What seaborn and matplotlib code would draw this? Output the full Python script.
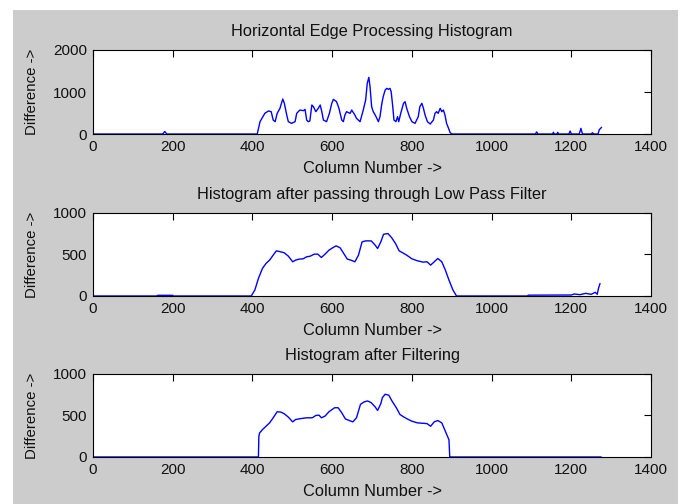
import matplotlib
matplotlib.use("Agg")
import matplotlib.pyplot as plt
import seaborn as sns
from matplotlib.patches import Rectangle

# Column positions and difference values
raw_cols = [1, 175, 180, 185, 412, 419, 431, 440, 447, 452, 457, 462, 469, 476, 480, 486,
            490, 498, 507, 511, 519, 528, 532, 536, 540, 544, 549, 553, 559, 565, 570, 574,
            578, 586, 593, 599, 603, 611, 617, 624, 628, 632, 636, 645, 649, 657, 661, 670,
            678, 684, 688, 692, 695, 699, 703, 708, 712, 716, 720, 724, 728, 733, 737, 741,
            745, 748, 752, 755, 760, 764, 767, 772, 779, 783, 787, 794, 800, 808, 816, 820,
            825, 829, 833, 839, 846, 854, 858, 862, 866, 871, 875, 879, 883, 887, 892, 896,
            900, 1110, 1113, 1116, 1153, 1155, 1157, 1164, 1166, 1168, 1194, 1197, 1200,
            1220, 1224, 1228, 1250, 1253, 1256, 1267, 1270, 1276]
raw_vals = [0, 0, 60, 0, 0, 294, 492, 548, 532, 333, 294, 492, 611, 833, 730, 452,
            294, 254, 294, 492, 571, 556, 587, 333, 294, 310, 690, 651, 532, 611, 690, 532,
            333, 294, 492, 730, 825, 770, 611, 333, 294, 452, 532, 492, 571, 452, 373, 294,
            571, 810, 1206, 1349, 1127, 651, 532, 452, 373, 294, 413, 690, 889, 1048, 1087, 1064,
            1087, 1008, 651, 333, 294, 413, 294, 492, 730, 770, 611, 413, 294, 254, 413, 651,
            730, 611, 452, 294, 238, 333, 492, 532, 492, 611, 532, 571, 452, 254, 135, 32,
            0, 0, 50, 0, 0, 40, 0, 0, 40, 0, 0, 70, 0,
            0, 135, 0, 0, 30, 0, 0, 100, 160]

lpf_cols = [1, 160, 162, 200, 202, 397, 406, 415, 425, 434, 443, 452, 460, 471, 480, 490,
            501, 508, 517, 527, 536, 545, 555, 564, 573, 582, 592, 601, 610, 620, 629, 638,
            647, 657, 666, 675, 684, 698, 708, 714, 722, 729, 740, 749, 759, 768, 777, 787,
            800, 814, 828, 838, 847, 856, 865, 875, 884, 893, 903, 912, 1090, 1092, 1200,
            1207, 1222, 1236, 1250, 1260, 1265, 1268, 1272]
lpf_vals = [0, 0, 8, 8, 0, 0, 72, 212, 332, 392, 432, 492, 544, 532, 520, 480,
            412, 432, 444, 448, 472, 480, 504, 504, 464, 504, 552, 580, 604, 580, 512, 444,
            432, 412, 492, 652, 664, 664, 612, 572, 652, 744, 752, 704, 632, 544, 520, 492,
            448, 424, 408, 412, 372, 412, 452, 412, 312, 192, 72, 0, 0, 10, 12,
            24, 16, 32, 20, 45, 20, 90, 150]

flt_cols = [1, 415, 416, 418, 425, 434, 443, 452, 462, 471, 480, 490, 501, 508, 522, 536,
            550, 559, 567, 573, 582, 592, 606, 615, 624, 633, 643, 652, 661, 671, 680, 689,
            698, 708, 714, 722, 726, 733, 742, 751, 761, 770, 779, 788, 800, 814, 838, 847,
            856, 865, 875, 884, 893, 895, 1275]
flt_vals = [0, 0, 248, 290, 329, 370, 411, 472, 545, 541, 520, 480, 423, 451, 463, 472,
            472, 500, 504, 472, 492, 545, 593, 593, 533, 459, 439, 423, 472, 634, 663, 675,
            654, 602, 561, 642, 715, 756, 744, 667, 593, 512, 484, 459, 431, 411, 402, 370,
            423, 439, 411, 309, 207, 0, 0]

titles = ["Horizontal Edge Processing Histogram",
          "Histogram after passing through Low Pass Filter",
          "Histogram after Filtering"]
yticks = [[0, 1000, 2000], [0, 500, 1000], [0, 500, 1000]]
xticks = [0, 200, 400, 600, 800, 1000, 1200, 1400]

sns.set_style("white")
plt.rcParams['font.family'] = ['Liberation Sans', 'DejaVu Sans']

fig = plt.figure(figsize=(6.83, 5.04), dpi=100, facecolor='white')
fig.patches.append(Rectangle((13 / 683, 0), 665 / 683, 494 / 504, transform=fig.transFigure,
                             facecolor='#cccccc', edgecolor='none', zorder=-10))

positions = [[0.1362, 0.7341, 0.8170, 0.1667],
             [0.1362, 0.4127, 0.8170, 0.1647],
             [0.1362, 0.0933, 0.8170, 0.1647]]
series = [(raw_cols, raw_vals), (lpf_cols, lpf_vals), (flt_cols, flt_vals)]

for pos, (cols, vals), title, yt in zip(positions, series, titles, yticks):
    ax = fig.add_axes(pos)
    ax.set_facecolor('white')
    sns.lineplot(x=cols, y=vals, ax=ax, color='#0000ff', linewidth=1.0, estimator=None)
    ax.set_xlim(0, 1400)
    ax.set_ylim(yt[0], yt[-1])
    ax.set_xticks(xticks)
    ax.set_yticks(yt)
    ax.tick_params(direction='in', length=5, width=0.8, color='black', top=True, right=True,
                   labelsize=11, pad=4.5, labelcolor='#111111')
    for sp in ax.spines.values():
        sp.set_visible(True)
        sp.set_color('black')
        sp.set_linewidth(0.8)
    ax.set_title(title, fontsize=11.8, pad=10, color='#111111')
    ax.set_xlabel("Column Number ->", fontsize=11.8, labelpad=5, color='#111111')
    ax.set_ylabel("Difference ->", fontsize=10.8, color='#111111')
    ax.yaxis.set_label_coords(-0.097, 0.5)

fig.savefig("out.png", dpi=100, facecolor=fig.get_facecolor())
